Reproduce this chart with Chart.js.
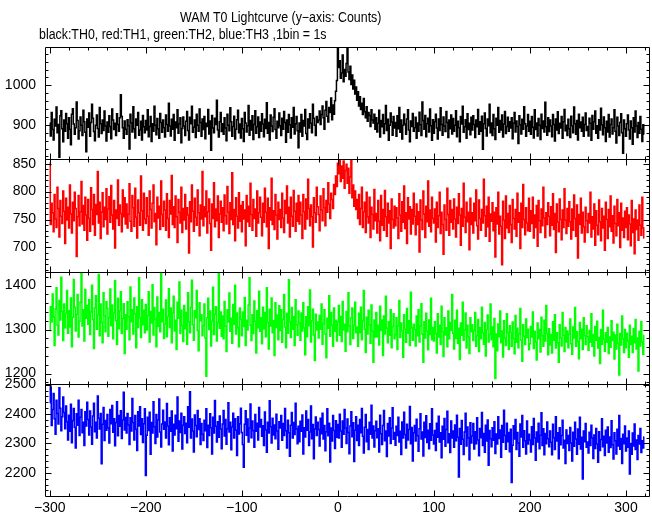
<!DOCTYPE html>
<html>
<head>
<meta charset="utf-8">
<title>WAM T0 Lightcurve</title>
<script src="https://cdn.jsdelivr.net/npm/chart.js@4.4.1/dist/chart.umd.min.js"></script>
<style>
    body { margin: 0; background: #fff; }
    #wrap { position: relative; width: 652px; height: 515px; }
    #myChart { position: absolute; left: 0; top: 0; }
    .title {
        position: absolute;
        font-family: "Liberation Sans", Arial, sans-serif;
        font-size: 14px;
        line-height: 1;
        color: #000;
        white-space: nowrap;
        transform-origin: 0 0;
        transform: scaleX(0.885);
    }
</style>
</head>
<body>
<div id="wrap">
    <canvas id="myChart" width="652" height="515"></canvas>
    <div class="title" style="left:180px; top:10px">WAM T0 Lightcurve (y−axis: Counts)</div>
    <div class="title" style="left:39px; top:27px">black:TH0, red:TH1, green:TH2, blue:TH3 ,1bin = 1s</div>
</div>
<script>
// first bin of the lightcurve (s), 1 bin = 1 s
const t0 = -300

const xTicks = [-300, -200, -100, 0, 100, 200, 300]
const th0Ticks = [900, 1000]
const th1Ticks = [700, 750, 800, 850]
const th2Ticks = [1200, 1300, 1400]
const th3Ticks = [2200, 2300, 2400, 2500]

// TH0 (black)
const th0 = [
    905, 872, 931, 888, 862, 914, 897, 945, 880, 901, 818, 923, 936, 890, 857, 912, 884, 929, 903, 866,
    918, 889, 850, 927, 941, 902, 876, 893, 958, 911, 864, 885, 920, 899, 873, 937, 908, 881, 832, 915,
    894, 930, 871, 906, 952, 917, 883, 860, 899, 925, 891, 869, 944, 903, 878, 912, 886, 935, 897, 859,
    907, 881, 923, 896, 865, 940, 912, 888, 904, 873, 928, 901, 884, 918, 976, 921, 893, 866, 910, 889,
    876, 913, 898, 839, 927, 905, 882, 946, 890, 867, 915, 899, 931, 874, 887, 909, 862, 924, 895, 880,
    911, 887, 938, 870, 896, 921, 858, 903, 884, 947, 899, 875, 916, 890, 866, 929, 906, 881, 912, 893,
    869, 925, 901, 884, 955, 897, 872, 914, 889, 926, 861, 907, 893, 938, 879, 902, 918, 855, 891, 920,
    897, 873, 909, 934, 886, 862, 919, 903, 947, 881, 894, 912, 868, 927, 899, 884, 940, 906, 871, 915,
    888, 921, 865, 904, 896, 939, 877, 910, 836, 924, 892, 880, 917, 901, 962, 887, 869, 908, 931, 883,
    903, 876, 918, 892, 860, 927, 899, 885, 943, 908, 871, 896, 922, 864, 889, 913, 937, 880, 902, 867,
    916, 890, 858, 931, 905, 882, 898, 949, 874, 911, 887, 923, 863, 901, 936, 879, 895, 920, 868, 907,
    884, 928, 902, 870, 914, 891, 956, 879, 906, 862, 925, 897, 883, 919, 941, 888, 866, 909, 893, 930,
    898, 873, 917, 889, 934, 906, 856, 912, 881, 926, 900, 867, 918, 894, 944, 877, 903, 921, 885, 842,
    905, 882, 926, 871, 911, 897, 939, 878, 863, 915, 892, 928, 904, 880, 952, 917, 899, 873, 921, 906,
    912, 935, 901, 926, 948, 918, 889, 937, 959, 922, 907, 944, 931, 968, 913, 950, 927, 961, 985, 1012,
    1096, 1045, 1062, 1018, 1031, 1077, 1009, 1040, 1023, 1055, 1099, 1034, 1015, 1048, 1002, 1026, 991, 1013, 978, 996,
    962, 984, 948, 971, 939, 955, 926, 967, 933, 918, 946, 909, 931, 924, 896, 938, 912, 905, 927, 889,
    918, 882, 904, 937, 869, 911, 895, 926, 878, 903, 949, 886, 914, 861, 899, 930, 907, 874, 921, 892,
    906, 871, 923, 890, 944, 881, 912, 864, 899, 927, 902, 876, 915, 938, 887, 857, 910, 896, 929, 884,
    893, 919, 866, 905, 884, 932, 900, 873, 958, 911, 889, 924, 870, 903, 917, 882, 940, 898, 861, 913,
    879, 908, 927, 892, 864, 915, 886, 943, 901, 874, 920, 897, 883, 934, 906, 868, 912, 890, 925, 877,
    916, 884, 899, 936, 870, 909, 893, 857, 921, 902, 947, 881, 895, 913, 866, 928, 888, 904, 875, 919,
    887, 923, 901, 868, 912, 895, 939, 876, 908, 884, 922, 838, 903, 930, 891, 872, 915, 898, 952, 880,
    905, 873, 926, 890, 863, 917, 899, 944, 881, 911, 887, 925, 869, 902, 934, 878, 896, 919, 884, 908,
    892, 918, 865, 904, 931, 882, 910, 896, 853, 923, 900, 877, 914, 889, 946, 903, 871, 897, 926, 884,
    909, 876, 921, 894, 867, 938, 888, 905, 872, 916, 899, 863, 927, 891, 910, 882, 957, 895, 874, 918,
    883, 912, 897, 870, 926, 901, 859, 915, 887, 933, 878, 904, 892, 921, 866, 908, 939, 885, 899, 873,
    914, 890, 868, 922, 898, 880, 945, 903, 876, 911, 862, 927, 893, 907, 884, 919, 871, 901, 930, 886,
    896, 872, 917, 904, 861, 924, 889, 908, 935, 879, 898, 866, 913, 887, 942, 900, 875, 920, 893, 858,
    909, 882, 926, 869, 901, 915, 877, 893, 938, 884, 854, 919, 897, 873, 906, 928, 880, 828, 912, 890,
    871, 903, 925, 887, 864, 910, 893, 851, 918, 882, 935, 897, 868, 906, 879, 921, 889, 858, 900, 876
]

// TH1 (red)
const th1 = [
    852, 741, 779, 762, 728, 795, 751, 736, 808, 770, 719, 784, 756, 743, 801, 765, 707, 788, 749, 772,
    735, 812, 760, 726, 781, 748, 799, 770, 684, 755, 793, 739, 764, 818, 742, 775, 731, 790, 758, 713,
    786, 752, 729, 807, 768, 741, 795, 722, 777, 759, 836, 744, 781, 716, 763, 798, 737, 772, 750, 805,
    724, 769, 791, 745, 811, 758, 733, 784, 699, 767, 752, 821, 740, 776, 761, 728, 803, 755, 789, 742,
    778, 735, 760, 814, 747, 729, 793, 771, 738, 806, 754, 717, 785, 762, 740, 828, 766, 731, 797, 751,
    743, 789, 756, 722, 801, 768, 735, 779, 812, 746, 761, 705, 790, 753, 774, 732, 819, 759, 738, 783,
    767, 731, 796, 752, 718, 784, 760, 829, 741, 773, 736, 792, 755, 709, 786, 763, 744, 808, 727, 770,
    749, 795, 733, 771, 758, 690, 782, 746, 812, 765, 729, 788, 754, 740, 803, 762, 721, 776, 751, 836,
    739, 773, 755, 801, 726, 764, 787, 743, 695, 778, 752, 816, 737, 769, 748, 792, 718, 760, 783, 745,
    771, 730, 794, 757, 742, 809, 763, 725, 780, 750, 834, 741, 768, 712, 789, 756, 735, 798, 747, 775,
    728, 782, 751, 767, 703, 793, 746, 774, 738, 815, 759, 731, 786, 752, 769, 720, 801, 744, 762, 790,
    754, 721, 779, 745, 806, 763, 737, 788, 698, 771, 749, 824, 741, 766, 732, 795, 758, 715, 781, 750,
    768, 736, 797, 753, 727, 784, 761, 810, 744, 772, 719, 790, 756, 738, 802, 765, 729, 779, 747, 793,
    742, 781, 758, 716, 795, 764, 733, 787, 751, 822, 770, 739, 776, 755, 701, 789, 762, 745, 808, 773,
    759, 730, 792, 767, 748, 805, 771, 739, 784, 763, 816, 778, 752, 797, 786, 770, 813, 795, 828, 809,
    851, 832, 857, 818, 846, 824, 855, 806, 838, 849, 815, 842, 797, 826, 856, 789, 812, 774, 801, 768,
    786, 752, 795, 741, 770, 808, 736, 764, 781, 727, 799, 755, 744, 790, 718, 772, 759, 733, 804, 748,
    761, 726, 784, 747, 712, 793, 740, 768, 731, 802, 755, 720, 779, 744, 766, 698, 787, 750, 735, 774,
    739, 771, 753, 716, 796, 758, 729, 782, 745, 810, 734, 762, 707, 789, 751, 773, 724, 768, 742, 797,
    756, 723, 778, 741, 764, 692, 785, 749, 732, 801, 760, 718, 774, 746, 819, 738, 767, 728, 790, 752,
    744, 769, 710, 781, 736, 757, 799, 725, 763, 741, 688, 776, 750, 731, 806, 759, 722, 784, 745, 768,
    733, 787, 751, 719, 772, 743, 796, 758, 704, 770, 738, 815, 754, 727, 781, 746, 763, 696, 788, 741,
    762, 726, 779, 748, 803, 739, 715, 785, 752, 731, 768, 744, 822, 757, 720, 774, 737, 790, 711, 760,
    747, 780, 730, 763, 683, 771, 742, 799, 724, 756, 738, 669, 783, 749, 716, 792, 735, 761, 727, 775,
    741, 709, 786, 752, 733, 768, 720, 797, 745, 762, 698, 779, 736, 813, 750, 723, 771, 744, 730, 788,
    729, 766, 743, 790, 717, 758, 736, 775, 702, 784, 748, 727, 769, 739, 808, 753, 718, 762, 741, 780,
    756, 721, 773, 740, 796, 732, 761, 691, 778, 745, 728, 787, 750, 714, 767, 736, 805, 749, 725, 770,
    738, 782, 746, 715, 769, 731, 794, 752, 720, 776, 681, 759, 741, 788, 726, 763, 737, 710, 772, 748,
    727, 761, 744, 799, 719, 755, 733, 778, 704, 766, 740, 723, 785, 746, 712, 770, 735, 756, 695, 781,
    750, 716, 768, 737, 792, 729, 757, 708, 774, 743, 721, 786, 739, 762, 700, 779, 731, 753, 718, 765,
    736, 771, 714, 758, 742, 703, 784, 727, 751, 689, 767, 732, 749, 713, 776, 740, 722, 790, 735, 717
]

// TH2 (green)
const th2 = [
    1298, 1352, 1317, 1381, 1329, 1264, 1347, 1395, 1310, 1288, 1366, 1322, 1419, 1341, 1275, 1358, 1304, 1337, 1389, 1292,
    1343, 1306, 1372, 1261, 1328, 1414, 1351, 1297, 1335, 1380, 1283, 1319, 1362, 1427, 1308, 1345, 1274, 1391, 1326, 1355,
    1312, 1368, 1289, 1340, 1401, 1323, 1257, 1349, 1377, 1301, 1333, 1425, 1286, 1358, 1316, 1270, 1384, 1331, 1295, 1363,
    1348, 1285, 1327, 1392, 1309, 1356, 1279, 1338, 1411, 1320, 1266, 1371, 1302, 1343, 1386, 1291, 1325, 1359, 1246, 1334,
    1301, 1363, 1329, 1277, 1397, 1318, 1345, 1290, 1372, 1336, 1259, 1352, 1305, 1418, 1327, 1282, 1368, 1311, 1344, 1293,
    1357, 1299, 1332, 1386, 1272, 1341, 1315, 1402, 1288, 1350, 1323, 1261, 1374, 1307, 1339, 1295, 1429, 1318, 1346, 1280,
    1313, 1367, 1284, 1330, 1393, 1305, 1349, 1270, 1338, 1376, 1297, 1321, 1255, 1362, 1326, 1408, 1291, 1344, 1309, 1273,
    1355, 1302, 1339, 1267, 1384, 1318, 1293, 1350, 1412, 1311, 1276, 1343, 1327, 1389, 1298, 1252, 1361, 1320, 1334, 1286,
    1309, 1358, 1281, 1194, 1327, 1371, 1300, 1342, 1263, 1319, 1396, 1289, 1335, 1352, 1274, 1316, 1427, 1303, 1340, 1285,
    1331, 1279, 1364, 1308, 1250, 1345, 1317, 1383, 1296, 1326, 1269, 1357, 1312, 1401, 1290, 1338, 1305, 1261, 1349, 1323,
    1286, 1340, 1307, 1373, 1264, 1321, 1299, 1356, 1418, 1310, 1275, 1334, 1291, 1365, 1319, 1247, 1343, 1304, 1387, 1296,
    1327, 1268, 1351, 1302, 1339, 1284, 1395, 1316, 1256, 1346, 1308, 1372, 1293, 1320, 1241, 1361, 1305, 1333, 1277, 1354,
    1298, 1345, 1271, 1323, 1380, 1306, 1259, 1337, 1292, 1413, 1318, 1282, 1350, 1301, 1329, 1264, 1368, 1311, 1287, 1342,
    1315, 1276, 1338, 1297, 1361, 1304, 1243, 1329, 1284, 1352, 1309, 1390, 1272, 1320, 1346, 1288, 1230, 1335, 1299, 1317,
    1281, 1332, 1301, 1358, 1267, 1313, 1345, 1290, 1236, 1326, 1303, 1377, 1285, 1339, 1310, 1262, 1349, 1296, 1321, 1274,
    1318, 1355, 1287, 1330, 1273, 1364, 1299, 1312, 1251, 1341, 1295, 1384, 1308, 1266, 1327, 1349, 1280, 1310, 1362, 1293,
    1306, 1262, 1337, 1293, 1351, 1277, 1320, 1389, 1301, 1248, 1328, 1290, 1344, 1311, 1269, 1356, 1297, 1226, 1322, 1283,
    1339, 1284, 1310, 1265, 1353, 1298, 1322, 1241, 1331, 1290, 1376, 1303, 1270, 1318, 1287, 1345, 1259, 1307, 1336, 1279,
    1289, 1327, 1255, 1309, 1366, 1282, 1315, 1297, 1237, 1334, 1301, 1271, 1348, 1292, 1320, 1264, 1385, 1304, 1276, 1312,
    1300, 1263, 1331, 1286, 1345, 1272, 1308, 1359, 1290, 1226, 1318, 1281, 1337, 1296, 1254, 1322, 1289, 1371, 1277, 1305,
    1274, 1318, 1291, 1247, 1336, 1283, 1310, 1266, 1353, 1295, 1239, 1327, 1288, 1304, 1261, 1342, 1279, 1316, 1298, 1380,
    1292, 1256, 1321, 1280, 1344, 1269, 1303, 1232, 1315, 1287, 1362, 1276, 1299, 1338, 1258, 1310, 1284, 1246, 1327, 1295,
    1311, 1275, 1298, 1339, 1262, 1286, 1323, 1250, 1305, 1279, 1351, 1293, 1267, 1316, 1240, 1300, 1333, 1272, 1289, 1358,
    1277, 1306, 1261, 1325, 1189, 1290, 1252, 1313, 1284, 1342, 1270, 1297, 1238, 1320, 1281, 1264, 1336, 1293, 1255, 1309,
    1294, 1262, 1317, 1280, 1245, 1332, 1271, 1303, 1259, 1290, 1348, 1276, 1228, 1311, 1285, 1266, 1324, 1282, 1301, 1254,
    1268, 1307, 1283, 1340, 1257, 1296, 1272, 1231, 1315, 1279, 1300, 1249, 1328, 1286, 1262, 1321, 1274, 1355, 1291, 1243,
    1302, 1265, 1289, 1247, 1318, 1276, 1334, 1258, 1293, 1270, 1226, 1311, 1281, 1263, 1339, 1287, 1250, 1305, 1272, 1297,
    1259, 1290, 1324, 1268, 1244, 1306, 1281, 1350, 1262, 1295, 1273, 1234, 1316, 1279, 1301, 1255, 1327, 1286, 1266, 1309,
    1284, 1253, 1298, 1271, 1336, 1262, 1289, 1240, 1307, 1276, 1319, 1258, 1282, 1223, 1300, 1267, 1344, 1278, 1251, 1293,
    1271, 1305, 1246, 1283, 1260, 1320, 1275, 1294, 1233, 1288, 1256, 1312, 1269, 1197, 1291, 1265, 1331, 1279, 1248, 1300,
    1259, 1292, 1274, 1237, 1310, 1266, 1285, 1248, 1302, 1270, 1323, 1256, 1281, 1206, 1296, 1263, 1318, 1272, 1244, 1287
]

// TH3 (blue)
const th3 = [
    2438, 2492, 2361, 2415, 2470, 2384, 2331, 2447, 2402, 2366, 2489, 2420, 2343, 2391, 2458, 2405, 2350, 2427, 2374, 2312,
    2396, 2341, 2433, 2302, 2378, 2419, 2355, 2284, 2401, 2362, 2447, 2327, 2389, 2415, 2336, 2372, 2293, 2408, 2359, 2440,
    2381, 2329, 2410, 2356, 2297, 2393, 2437, 2340, 2372, 2318, 2461, 2386, 2349, 2402, 2231, 2365, 2422, 2310, 2378, 2345,
    2398, 2352, 2301, 2415, 2367, 2429, 2338, 2384, 2292, 2371, 2442, 2326, 2395, 2358, 2411, 2317, 2380, 2474, 2346, 2388,
    2335, 2402, 2363, 2296, 2387, 2342, 2453, 2371, 2312, 2395, 2348, 2276, 2408, 2359, 2425, 2330, 2384, 2303, 2367, 2418,
    2191, 2328, 2389, 2344, 2406, 2263, 2371, 2335, 2442, 2357, 2300, 2398, 2322, 2380, 2451, 2339, 2288, 2366, 2413, 2348,
    2373, 2318, 2436, 2359, 2295, 2387, 2341, 2410, 2274, 2365, 2329, 2396, 2350, 2458, 2307, 2376, 2337, 2403, 2281, 2362,
    2391, 2334, 2369, 2302, 2425, 2355, 2476, 2318, 2383, 2342, 2271, 2397, 2361, 2323, 2412, 2347, 2384, 2296, 2368, 2331,
    2310, 2379, 2343, 2418, 2286, 2362, 2327, 2401, 2353, 2264, 2389, 2335, 2446, 2358, 2305, 2374, 2321, 2393, 2349, 2282,
    2366, 2412, 2325, 2381, 2297, 2350, 2438, 2339, 2372, 2278, 2356, 2403, 2318, 2384, 2345, 2259, 2391, 2332, 2367, 2420,
    2337, 2296, 2219, 2365, 2411, 2328, 2383, 2305, 2352, 2434, 2319, 2376, 2344, 2287, 2398, 2341, 2369, 2312, 2422, 2356,
    2381, 2324, 2360, 2293, 2407, 2346, 2270, 2372, 2335, 2445, 2357, 2301, 2386, 2329, 2363, 2316, 2399, 2342, 2280, 2374,
    2352, 2395, 2311, 2368, 2327, 2419, 2343, 2284, 2379, 2336, 2256, 2362, 2405, 2318, 2371, 2330, 2437, 2349, 2299, 2358,
    2306, 2375, 2341, 2397, 2264, 2353, 2322, 2410, 2345, 2381, 2293, 2339, 2427, 2316, 2364, 2248, 2349, 2390, 2327, 2372,
    2347, 2291, 2386, 2333, 2403, 2315, 2361, 2275, 2340, 2418, 2326, 2369, 2237, 2352, 2308, 2395, 2344, 2283, 2377, 2321,
    2364, 2318, 2399, 2342, 2287, 2376, 2331, 2415, 2352, 2300, 2383, 2337, 2265, 2359, 2408, 2323, 2370, 2238, 2345, 2391,
    2310, 2362, 2293, 2381, 2336, 2419, 2324, 2267, 2355, 2398, 2306, 2347, 2279, 2372, 2331, 2430, 2318, 2359, 2288, 2343,
    2375, 2319, 2350, 2271, 2396, 2333, 2296, 2361, 2412, 2309, 2342, 2255, 2368, 2325, 2387, 2300, 2352, 2421, 2314, 2337,
    2294, 2358, 2327, 2389, 2305, 2341, 2262, 2373, 2318, 2406, 2330, 2284, 2365, 2312, 2347, 2426, 2299, 2354, 2240, 2336,
    2361, 2308, 2382, 2326, 2273, 2350, 2401, 2315, 2339, 2257, 2372, 2320, 2394, 2303, 2345, 2282, 2367, 2311, 2418, 2329,
    2298, 2344, 2276, 2369, 2321, 2392, 2305, 2336, 2251, 2358, 2314, 2385, 2290, 2347, 2409, 2302, 2333, 2269, 2376, 2318,
    2342, 2287, 2363, 2309, 2396, 2321, 2186, 2351, 2297, 2378, 2314, 2262, 2339, 2403, 2291, 2356, 2318, 2244, 2370, 2301,
    2325, 2368, 2281, 2340, 2299, 2387, 2312, 2258, 2351, 2319, 2405, 2293, 2334, 2270, 2362, 2308, 2380, 2226, 2344, 2316,
    2289, 2353, 2311, 2374, 2266, 2332, 2298, 2391, 2317, 2346, 2253, 2361, 2304, 2413, 2327, 2280, 2369, 2306, 2337, 2272,
    2348, 2167, 2294, 2360, 2315, 2381, 2279, 2337, 2301, 2256, 2366, 2322, 2395, 2287, 2343, 2309, 2264, 2376, 2298, 2331,
    2312, 2271, 2357, 2296, 2385, 2318, 2243, 2339, 2305, 2369, 2282, 2328, 2404, 2293, 2350, 2261, 2334, 2299, 2373, 2316,
    2289, 2342, 2304, 2261, 2365, 2319, 2279, 2391, 2308, 2336, 2248, 2353, 2295, 2327, 2379, 2284, 2311, 2232, 2346, 2300,
    2327, 2276, 2354, 2301, 2240, 2338, 2290, 2372, 2315, 2263, 2349, 2297, 2389, 2281, 2321, 2179, 2342, 2306, 2368, 2287,
    2305, 2267, 2338, 2293, 2362, 2318, 2249, 2329, 2283, 2351, 2298, 2236, 2340, 2276, 2313, 2384, 2289, 2324, 2259, 2345,
    2301, 2356, 2270, 2322, 2286, 2377, 2295, 2247, 2336, 2309, 2264, 2348, 2291, 2395, 2280, 2317, 2232, 2331, 2299, 2359,
    2274, 2318, 2287, 2342, 2196, 2300, 2263, 2335, 2291, 2366, 2279, 2312, 2245, 2327, 2298, 2351, 2269, 2309, 2284, 2322
]

const fontFamily = '"Liberation Sans", Arial, sans-serif'

// panels from top to bottom
const panels = [
    { id: 'y0', data: th0, color: '#000000', min: 813, max: 1097, ticks: th0Ticks, minor: 20 },
    { id: 'y1', data: th1, color: '#ff0000', min: 657, max: 858, ticks: th1Ticks, minor: 10 },
    { id: 'y2', data: th2, color: '#00ff00', min: 1177, max: 1432, ticks: th2Ticks, minor: 20 },
    { id: 'y3', data: th3, color: '#0000ff', min: 2121, max: 2503, ticks: th3Ticks, minor: 20 }
]

const fmt = v => String(v).replace('-', '\u2212')

const scales = {
    x: {
        type: 'linear',
        min: -305,
        max: 325,
        grid: { display: false, drawTicks: false },
        border: { display: false },
        afterBuildTicks: s => { s.ticks = xTicks.map(v => ({ value: v })) },
        afterFit: s => { s.height = 19 },
        ticks: {
            autoSkip: false,
            maxRotation: 0,
            padding: 4,
            color: '#000',
            font: { family: fontFamily, size: 14 },
            callback: v => fmt(v)
        }
    }
}

// stacked axes: the last defined left box is placed on top
panels.slice().reverse().forEach(p => {
    scales[p.id] = {
        type: 'linear',
        position: 'left',
        stack: 'wam',
        stackWeight: 1,
        min: p.min,
        max: p.max,
        grid: { display: false, drawTicks: false },
        border: { display: false },
        afterBuildTicks: s => { s.ticks = p.ticks.map(v => ({ value: v })) },
        afterFit: s => { s.width = 45 },
        ticks: {
            autoSkip: false,
            padding: 9,
            color: '#000',
            font: { family: fontFamily, size: 14 },
            callback: v => fmt(v)
        }
    }
})

// clip each curve to its own panel, then draw frames and inward ticks
const panelFrame = {
    id: 'panelFrame',
    beforeDatasetDraw(chart, args) {
        const s = chart.scales[chart.data.datasets[args.index].yAxisID]
        const a = chart.chartArea
        const ctx = chart.ctx
        ctx.save()
        ctx.beginPath()
        ctx.rect(a.left, s.top, a.right - a.left, s.bottom - s.top)
        ctx.clip()
    },
    afterDatasetDraw(chart) {
        chart.ctx.restore()
    },
    afterDatasetsDraw(chart) {
        const ctx = chart.ctx
        const a = chart.chartArea
        const xs = chart.scales.x
        const L = Math.round(a.left) + 0.5
        const R = Math.round(a.right) - 0.5
        ctx.save()
        ctx.strokeStyle = '#000'
        ctx.lineWidth = 1
        ctx.beginPath()
        panels.forEach(p => {
            const s = chart.scales[p.id]
            const T = Math.round(s.top) + 0.5
            const B = Math.round(s.bottom) + 0.5
            ctx.moveTo(L, T); ctx.lineTo(R, T); ctx.lineTo(R, B); ctx.lineTo(L, B); ctx.closePath()
            // y ticks, both sides
            const start = Math.ceil(p.min / p.minor) * p.minor
            for (let v = start; v <= p.max; v += p.minor) {
                const y = Math.round(s.getPixelForValue(v)) + 0.5
                const len = p.ticks.includes(v) ? 6 : 3
                ctx.moveTo(L, y); ctx.lineTo(L + len, y)
                ctx.moveTo(R, y); ctx.lineTo(R - len, y)
            }
            // x ticks on top and bottom of every panel
            for (let v = -300; v <= 320; v += 20) {
                const x = Math.round(xs.getPixelForValue(v)) + 0.5
                const len = v % 100 === 0 ? 6 : 3
                ctx.moveTo(x, T); ctx.lineTo(x, T + len)
                ctx.moveTo(x, B); ctx.lineTo(x, B - len)
            }
        })
        ctx.stroke()
        ctx.restore()
    }
}

const ctx = document.querySelector('#myChart').getContext('2d')

const chart = new Chart(ctx, {
    type: 'line',
    data: {
        datasets: panels.map(p => ({
            label: p.id,
            data: p.data.map((v, i) => ({ x: t0 + i, y: v })),
            yAxisID: p.id,
            borderColor: p.color,
            borderWidth: 1.5,
            pointRadius: 0,
            stepped: 'middle',
            fill: false
        }))
    },
    options: {
        responsive: false,
        animation: false,
        events: [],
        normalized: true,
        layout: { padding: { top: 47, right: 2, left: 0, bottom: 0 } },
        plugins: {
            legend: { display: false },
            tooltip: { enabled: false }
        },
        scales: scales
    },
    plugins: [panelFrame]
})
</script>
</body>
</html>
